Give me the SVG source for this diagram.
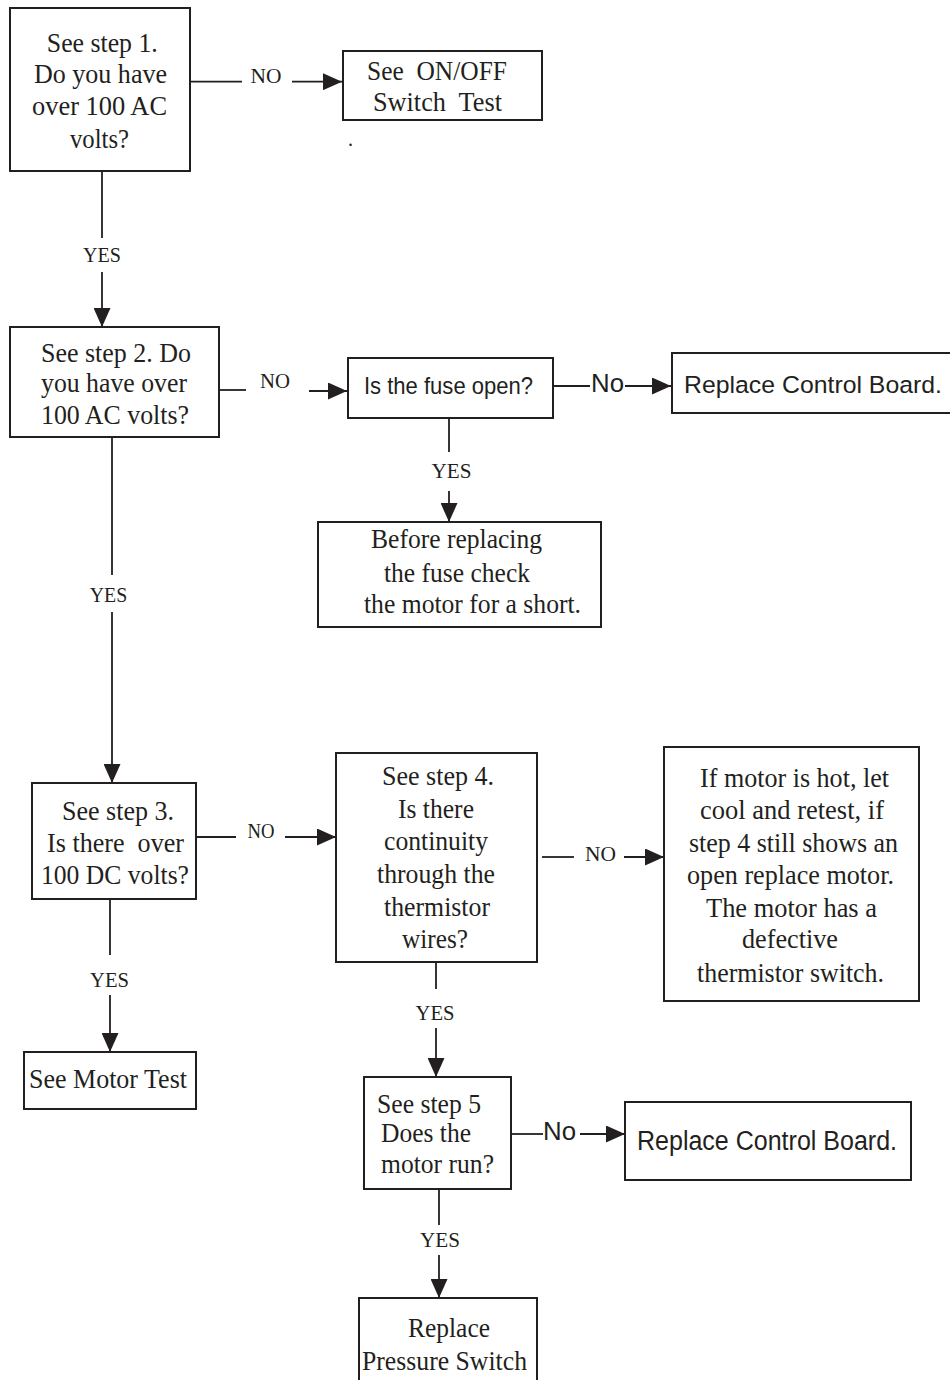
<svg xmlns="http://www.w3.org/2000/svg" width="950" height="1380" viewBox="0 0 950 1380">
<style>
.box{fill:#fff;stroke:#231f20;stroke-width:2}
.ln{fill:none;stroke:#231f20;stroke-width:1.8}
.t{font-family:"Liberation Serif","Times New Roman",serif;font-size:27px;fill:#231f20;text-anchor:middle}
.s{font-family:"Liberation Sans",Arial,sans-serif;font-size:27px;fill:#231f20}
.lb{font-family:"Liberation Serif","Times New Roman",serif;font-size:21px;fill:#231f20;text-anchor:middle}
</style>
<defs>
<marker id="ah" markerUnits="userSpaceOnUse" markerWidth="19" markerHeight="17" refX="19" refY="8.5" orient="auto" viewBox="0 0 19 17">
<path d="M0,0 L19,8.5 L0,17 z" fill="#231f20"/>
</marker>
</defs>
<rect width="950" height="1380" fill="#fff"/>

<g id="connectors">
<path class="ln" d="M190,81.7 H242"/>
<path class="ln" d="M292,81.7 H342" marker-end="url(#ah)"/>
<text class="lb" x="266" y="83" textLength="31" lengthAdjust="spacingAndGlyphs">NO</text>

<path class="ln" d="M102,172 V238"/>
<path class="ln" d="M102,272 V327" marker-end="url(#ah)"/>
<text class="lb" x="102" y="262" textLength="38" lengthAdjust="spacingAndGlyphs">YES</text>

<path class="ln" d="M219,390 H246"/>
<path class="ln" d="M309,391 H347" marker-end="url(#ah)"/>
<text class="lb" x="275" y="388" textLength="30" lengthAdjust="spacingAndGlyphs">NO</text>

<path class="ln" d="M553,386 H590"/>
<path class="ln" d="M625,386 H671" marker-end="url(#ah)"/>
<text class="s" x="591" y="392" style="font-size:25px" textLength="33" lengthAdjust="spacingAndGlyphs">No</text>

<path class="ln" d="M449,419 V452"/>
<path class="ln" d="M449,491 V522" marker-end="url(#ah)"/>
<text class="lb" x="451.5" y="478" textLength="40" lengthAdjust="spacingAndGlyphs">YES</text>

<path class="ln" d="M112,437 V575"/>
<path class="ln" d="M112,612 V783" marker-end="url(#ah)"/>
<text class="lb" x="108.5" y="602" textLength="37.5" lengthAdjust="spacingAndGlyphs">YES</text>

<path class="ln" d="M196,837 H236"/>
<path class="ln" d="M285,837 H336" marker-end="url(#ah)"/>
<text class="lb" x="261" y="838" textLength="27" lengthAdjust="spacingAndGlyphs">NO</text>

<path class="ln" d="M542,857 H574"/>
<path class="ln" d="M624,857 H664" marker-end="url(#ah)"/>
<text class="lb" x="600.5" y="861" textLength="31" lengthAdjust="spacingAndGlyphs">NO</text>

<path class="ln" d="M110,899 V955"/>
<path class="ln" d="M110,995 V1052" marker-end="url(#ah)"/>
<text class="lb" x="109.5" y="987" textLength="39" lengthAdjust="spacingAndGlyphs">YES</text>

<path class="ln" d="M436,962 V989"/>
<path class="ln" d="M436,1028 V1077" marker-end="url(#ah)"/>
<text class="lb" x="435" y="1020" textLength="39" lengthAdjust="spacingAndGlyphs">YES</text>

<path class="ln" d="M511,1134 H543"/>
<path class="ln" d="M580,1134 H625" marker-end="url(#ah)"/>
<text class="s" x="543" y="1140" style="font-size:25px" textLength="33" lengthAdjust="spacingAndGlyphs">No</text>

<path class="ln" d="M439,1189 V1225"/>
<path class="ln" d="M439,1255 V1298" marker-end="url(#ah)"/>
<text class="lb" x="440" y="1247" textLength="40" lengthAdjust="spacingAndGlyphs">YES</text>
</g>

<g id="step1">
<rect class="box" x="10" y="8" width="180" height="163"/>
<text class="t" x="102.3" y="52" textLength="111" lengthAdjust="spacingAndGlyphs">See step 1.</text>
<text class="t" x="100.5" y="83" textLength="133" lengthAdjust="spacingAndGlyphs">Do you have</text>
<text class="t" x="99.5" y="115" textLength="135" lengthAdjust="spacingAndGlyphs">over 100 AC</text>
<text class="t" x="99.5" y="148" textLength="59" lengthAdjust="spacingAndGlyphs">volts?</text>
</g>

<g id="onoff">
<rect class="box" x="343" y="51" width="199" height="69"/>
<text class="t" x="437" y="80" textLength="140" lengthAdjust="spacingAndGlyphs" xml:space="preserve">See  ON/OFF</text>
<text class="t" x="437.5" y="111" textLength="129" lengthAdjust="spacingAndGlyphs" xml:space="preserve">Switch  Test</text>
<text class="t" x="348" y="146" style="text-anchor:start;font-size:20px">.</text>
</g>

<g id="step2">
<rect class="box" x="10" y="327" width="209" height="110"/>
<text class="t" x="116" y="362" textLength="150" lengthAdjust="spacingAndGlyphs">See step 2. Do</text>
<text class="t" x="114" y="392" textLength="146" lengthAdjust="spacingAndGlyphs">you have over</text>
<text class="t" x="115" y="424" textLength="148" lengthAdjust="spacingAndGlyphs">100 AC volts?</text>
</g>

<g id="fuse">
<rect class="box" x="348" y="358" width="205" height="60"/>
<text class="s" x="364" y="394" style="font-size:24px" textLength="169" lengthAdjust="spacingAndGlyphs">Is the fuse open?</text>
</g>

<g id="board1">
<rect class="box" x="672" y="353" width="290" height="60"/>
<text class="s" x="684" y="393" style="font-size:24.5px" textLength="258" lengthAdjust="spacingAndGlyphs">Replace Control Board.</text>
</g>

<g id="shortcheck">
<rect class="box" x="318" y="522" width="283" height="105"/>
<text class="t" x="456.5" y="548" textLength="171" lengthAdjust="spacingAndGlyphs">Before replacing</text>
<text class="t" x="457" y="582" textLength="146" lengthAdjust="spacingAndGlyphs">the fuse check</text>
<text class="t" x="472.5" y="613" textLength="217" lengthAdjust="spacingAndGlyphs">the motor for a short.</text>
</g>

<g id="step3">
<rect class="box" x="32" y="783" width="164" height="116"/>
<text class="t" x="118" y="820" textLength="112" lengthAdjust="spacingAndGlyphs">See step 3.</text>
<text class="t" x="115.5" y="852" textLength="137" lengthAdjust="spacingAndGlyphs" xml:space="preserve">Is there  over</text>
<text class="t" x="115" y="884" textLength="148" lengthAdjust="spacingAndGlyphs">100 DC volts?</text>
</g>

<g id="step4">
<rect class="box" x="336" y="753" width="201" height="209"/>
<text class="t" x="438" y="785" textLength="112" lengthAdjust="spacingAndGlyphs">See step 4.</text>
<text class="t" x="436" y="818" textLength="76" lengthAdjust="spacingAndGlyphs">Is there</text>
<text class="t" x="436" y="850" textLength="104" lengthAdjust="spacingAndGlyphs">continuity</text>
<text class="t" x="436" y="883" textLength="118" lengthAdjust="spacingAndGlyphs">through the</text>
<text class="t" x="437" y="916" textLength="106" lengthAdjust="spacingAndGlyphs">thermistor</text>
<text class="t" x="435" y="948" textLength="66" lengthAdjust="spacingAndGlyphs">wires?</text>
</g>

<g id="hotmotor">
<rect class="box" x="664" y="747" width="255" height="254"/>
<text class="t" x="794.5" y="787" textLength="189" lengthAdjust="spacingAndGlyphs">If motor is hot, let</text>
<text class="t" x="792" y="819" textLength="184" lengthAdjust="spacingAndGlyphs">cool and retest, if</text>
<text class="t" x="793.5" y="852" textLength="209" lengthAdjust="spacingAndGlyphs">step 4 still shows an</text>
<text class="t" x="790.5" y="884" textLength="207" lengthAdjust="spacingAndGlyphs">open replace motor.</text>
<text class="t" x="791.5" y="917" textLength="171" lengthAdjust="spacingAndGlyphs">The motor has a</text>
<text class="t" x="790" y="948" textLength="96" lengthAdjust="spacingAndGlyphs">defective</text>
<text class="t" x="790.5" y="982" textLength="187" lengthAdjust="spacingAndGlyphs">thermistor switch.</text>
</g>

<g id="motortest">
<rect class="box" x="24" y="1052" width="172" height="57"/>
<text class="t" x="108" y="1088" textLength="158" lengthAdjust="spacingAndGlyphs">See Motor Test</text>
</g>

<g id="step5">
<rect class="box" x="364" y="1077" width="147" height="112"/>
<text class="t" x="377" y="1113" style="text-anchor:start" textLength="104" lengthAdjust="spacingAndGlyphs">See step 5</text>
<text class="t" x="381" y="1142" style="text-anchor:start" textLength="90" lengthAdjust="spacingAndGlyphs">Does the</text>
<text class="t" x="381" y="1173" style="text-anchor:start" textLength="113" lengthAdjust="spacingAndGlyphs">motor run?</text>
</g>

<g id="board2">
<rect class="box" x="625" y="1102" width="286" height="78"/>
<text class="s" x="637" y="1150" textLength="260" lengthAdjust="spacingAndGlyphs">Replace Control Board.</text>
</g>

<g id="pressure">
<rect class="box" x="359" y="1298" width="178" height="95"/>
<text class="t" x="449" y="1337" textLength="82" lengthAdjust="spacingAndGlyphs">Replace</text>
<text class="t" x="444.5" y="1370" textLength="165" lengthAdjust="spacingAndGlyphs">Pressure Switch</text>
</g>
</svg>
